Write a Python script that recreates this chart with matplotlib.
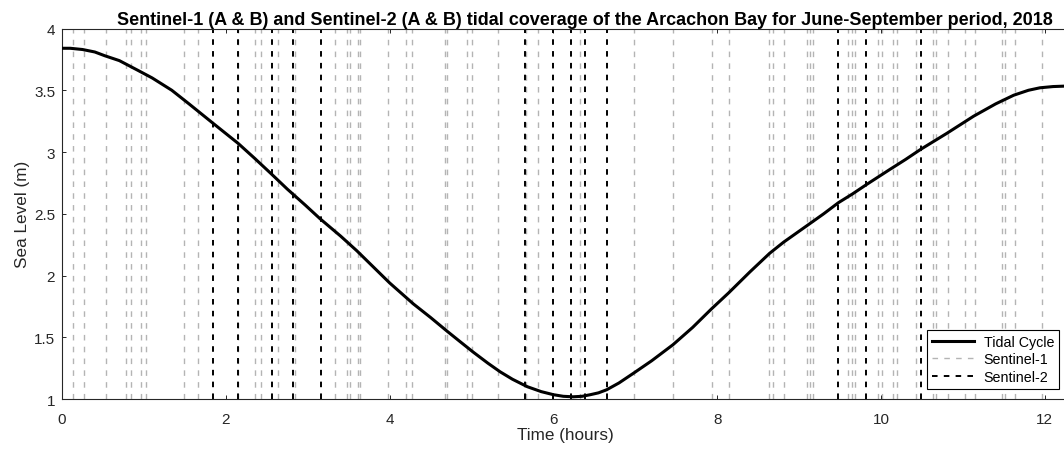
import matplotlib
matplotlib.use('Agg')
import matplotlib.pyplot as plt

plt.rcParams['font.family'] = ['Liberation Sans', 'DejaVu Sans']
plt.rcParams['lines.scale_dashes'] = False

# tidal cycle (hours, m)
tide_t = [0, 0.1, 0.25, 0.4, 0.52, 0.7, 0.93, 1.1, 1.34, 1.55, 1.83, 2.15, 2.35, 2.56,
          2.75, 2.97, 3.15, 3.4, 3.60, 3.8, 4.00, 4.29, 4.5, 4.70, 4.85, 5.02, 5.2,
          5.35, 5.5, 5.68, 5.85, 6.00, 6.12, 6.24, 6.35, 6.45, 6.55, 6.65, 6.8, 6.98,
          7.2, 7.46, 7.7, 7.93, 8.14, 8.4, 8.64, 8.81, 9.13, 9.3, 9.48, 9.65, 9.83,
          10.11, 10.3, 10.48, 10.8, 11.13, 11.4, 11.62, 11.8, 11.94, 12.1, 12.3]
tide_h = [3.84, 3.84, 3.83, 3.81, 3.78, 3.74, 3.66, 3.60, 3.50, 3.39, 3.24, 3.07, 2.95,
          2.82, 2.70, 2.57, 2.46, 2.32, 2.20, 2.07, 1.94, 1.77, 1.66, 1.55, 1.47, 1.38,
          1.29, 1.22, 1.16, 1.10, 1.06, 1.035, 1.022, 1.018, 1.022, 1.035, 1.05, 1.075,
          1.13, 1.21, 1.31, 1.44, 1.58, 1.73, 1.86, 2.03, 2.18, 2.27, 2.42, 2.50, 2.59,
          2.66, 2.74, 2.86, 2.94, 3.02, 3.15, 3.29, 3.39, 3.46, 3.50, 3.52, 3.53, 3.535]

# acquisition times (hours in tidal cycle)
s1_times = [0.14, 0.27, 0.54, 0.78, 0.84, 0.97, 1.02, 1.49, 1.66, 2.15, 2.36, 2.43,
            2.64, 2.85, 3.33, 3.48, 3.51, 3.61, 3.64, 3.98, 4.20, 4.27, 4.67, 4.70,
            4.94, 5.01, 5.32, 5.67, 5.81, 6.32, 6.98, 7.46, 7.94, 8.14, 8.63, 8.68,
            8.82, 9.09, 9.13, 9.17, 9.60, 9.64, 9.68, 9.96, 10.01, 10.15, 10.19,
            10.43, 10.64, 10.67, 10.82, 11.02, 11.15, 11.48, 11.51, 11.64, 11.96]
s2_times = [1.84, 2.15, 2.56, 2.82, 3.16, 5.65, 5.99, 6.22, 6.39, 6.65, 9.48, 9.82, 10.49]

fig = plt.figure(figsize=(10.64, 4.52), dpi=100)
ax = fig.add_axes([0.0583, 0.1150, 0.9468, 0.8197])

for i, t in enumerate(s1_times):
    ax.axvline(t, color='#b4b4b4', lw=1.0, dashes=(4, 4.5), zorder=1,
               label='Sentinel-1' if i == 0 else None)
for i, t in enumerate(s2_times):
    ax.axvline(t, color='black', lw=1.4, dashes=(4, 4.5), zorder=2,
               label='Sentinel-2' if i == 0 else None)
ax.plot(tide_t, tide_h, color='black', lw=2.2, zorder=3, label='Tidal Cycle')

ax.set_xlim(0, 12.3)
ax.set_ylim(1, 4)
ax.set_xticks([0, 2, 4, 6, 8, 10, 12])
ax.set_yticks([1, 1.5, 2, 2.5, 3, 3.5, 4])
ax.set_yticklabels(['1', '1.5', '2', '2.5', '3', '3.5', '4'])
ax.tick_params(direction='in', top=True, right=True, length=3, width=0.7,
               labelsize=11, colors='#262626')
ax.tick_params(axis='x', pad=9)
ax.tick_params(axis='y', pad=5)
for s in ax.spines.values():
    s.set_color('#262626')
    s.set_linewidth(0.8)

ax.set_xlabel('Time (hours)', fontsize=12.3, color='#262626', labelpad=1)
ax.set_ylabel('Sea Level (m)', fontsize=12.3, color='#262626', labelpad=3)
ax.set_title('Sentinel-1 (A & B) and Sentinel-2 (A & B) tidal coverage of the Arcachon Bay '
             'for June-September period, 2018', fontsize=13, fontweight='bold', x=0.519, pad=3)

handles, labels = ax.get_legend_handles_labels()
order = [labels.index('Tidal Cycle'), labels.index('Sentinel-1'), labels.index('Sentinel-2')]
leg = ax.legend([handles[i] for i in order], [labels[i] for i in order],
                loc='lower right', bbox_to_anchor=(0.9897, 0.027), borderaxespad=0,
                fontsize=10.3, fancybox=False, framealpha=1, edgecolor='black',
                handlelength=2.9, handletextpad=0.7, labelspacing=0.25, borderpad=0.35)
leg.get_frame().set_linewidth(0.8)

plt.savefig('out.png', dpi=100)
